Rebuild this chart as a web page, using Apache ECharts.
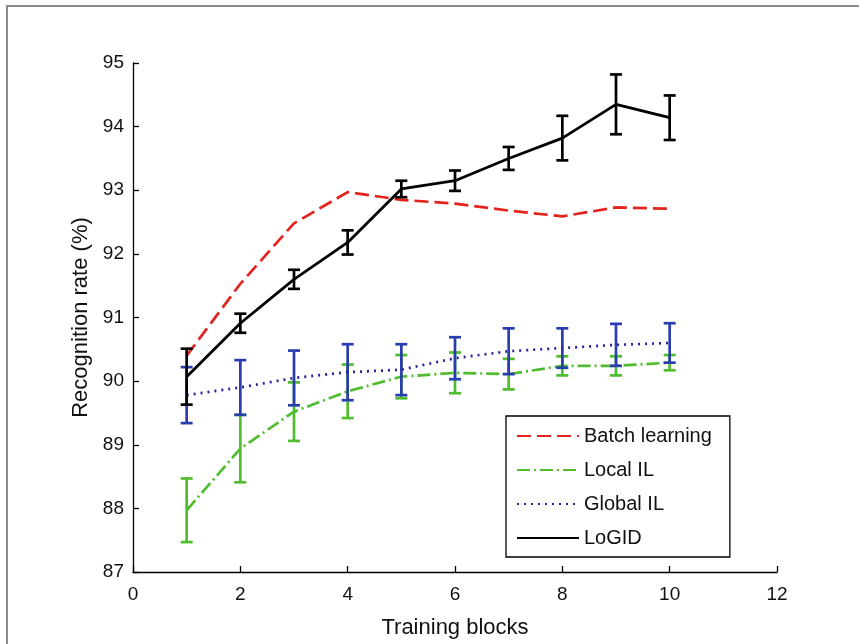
<!DOCTYPE html>
<html>
<head>
<meta charset="utf-8">
<script src="https://cdn.jsdelivr.net/npm/echarts@6/dist/echarts.min.js"></script>
<style>
  html, body { margin: 0; padding: 0; background: #fff; }
  #chart { width: 859px; height: 644px; }
</style>
</head>
<body>
<div id="chart"></div>
<script>
// Training block index
const blocks = [1, 2, 3, 4, 5, 6, 7, 8, 9, 10];

// Mean recognition rate (%) per method
const batchMean  = [90.40, 91.53, 92.48, 92.97, 92.85, 92.79, 92.68, 92.59, 92.73, 92.71];
const localMean  = [87.97, 88.94, 89.52, 89.84, 90.07, 90.13, 90.11, 90.24, 90.24, 90.29];
const globalMean = [89.78, 89.90, 90.05, 90.14, 90.18, 90.36, 90.47, 90.52, 90.57, 90.60];
const logidMean  = [90.07, 90.91, 91.60, 92.18, 93.02, 93.15, 93.50, 93.82, 94.35, 94.14];

// Half-width of the error bars (%)
const localErr  = [0.50, 0.53, 0.46, 0.42, 0.34, 0.32, 0.24, 0.15, 0.15, 0.12];
const globalErr = [0.44, 0.43, 0.43, 0.44, 0.40, 0.33, 0.36, 0.31, 0.33, 0.31];
const logidErr  = [0.44, 0.15, 0.15, 0.19, 0.13, 0.16, 0.18, 0.35, 0.47, 0.35];

// Axis ticks
const xTicks = { min: 0, max: 12, interval: 2 };
const yTicks = { min: 87, max: 95, interval: 1 };

const seriesNames = ['Batch learning', 'Local IL', 'Global IL', 'LoGID'];

const colors = {
  batch: '#e3231d',
  local: '#4fbd2e',
  globalLine: '#25259a',
  globalBar: '#2a3db0',
  logid: '#000000'
};

const FONT = '"Liberation Sans", Arial, sans-serif';

function pairs(ys) { return blocks.map((x, i) => [x, ys[i]]); }
function bars(ys, errs) { return blocks.map((x, i) => [x, ys[i] - errs[i], ys[i] + errs[i]]); }

function errorBarSeries(id, ys, errs, color, z) {
  return {
    id: id,
    type: 'custom',
    data: bars(ys, errs),
    encode: { x: 0, y: [1, 2] },
    z: z,
    silent: true,
    renderItem: function (params, api) {
      const x = api.value(0);
      const lo = api.coord([x, api.value(1)]);
      const hi = api.coord([x, api.value(2)]);
      const cap = 6;
      const st = { stroke: color, lineWidth: 2.7 };
      return {
        type: 'group',
        children: [
          { type: 'line', shape: { x1: hi[0], y1: hi[1], x2: lo[0], y2: lo[1] }, style: st },
          { type: 'line', shape: { x1: hi[0] - cap, y1: hi[1], x2: hi[0] + cap, y2: hi[1] }, style: st },
          { type: 'line', shape: { x1: lo[0] - cap, y1: lo[1], x2: lo[0] + cap, y2: lo[1] }, style: st }
        ]
      };
    }
  };
}

function lineSeries(name, ys, color, type, width, z) {
  return {
    name: name,
    type: 'line',
    data: pairs(ys),
    symbol: 'none',
    z: z,
    lineStyle: { color: color, width: width, type: type, cap: 'butt' },
    itemStyle: { color: color }
  };
}

const chart = echarts.init(document.getElementById('chart'), null, { renderer: 'canvas' });

chart.setOption({
  backgroundColor: '#ffffff',
  animation: false,
  textStyle: { fontFamily: FONT },
  graphic: [
    // outer frame edges
    { type: 'rect', shape: { x: 6, y: 5, width: 860, height: 2 }, style: { fill: '#8a8a8a' }, z: 100 },
    { type: 'rect', shape: { x: 6, y: 5, width: 2, height: 650 }, style: { fill: '#8a8a8a' }, z: 100 }
  ],
  grid: { left: 133, top: 63, right: 82, bottom: 72, containLabel: false },
  legend: {
    data: seriesNames,
    orient: 'vertical',
    left: 506,
    top: 416,
    padding: [10, 18, 9, 10],
    itemWidth: 62,
    itemHeight: 14,
    itemGap: 14,
    borderColor: '#000',
    borderWidth: 1.3,
    backgroundColor: '#fff',
    selectedMode: false,
    // line-only legend keys
    itemStyle: { color: 'rgba(0,0,0,0)', borderWidth: 0, opacity: 0 },
    textStyle: { fontFamily: FONT, fontSize: 20, color: '#111', lineHeight: 20 }
  },
  xAxis: {
    type: 'value',
    min: xTicks.min, max: xTicks.max, interval: xTicks.interval,
    name: 'Training blocks',
    nameLocation: 'middle',
    nameGap: 45,
    nameTextStyle: { fontFamily: FONT, fontSize: 22, color: '#111' },
    axisLine: { lineStyle: { color: '#000', width: 1.3 } },
    axisTick: { inside: true, length: 6, lineStyle: { color: '#000', width: 1.3 } },
    axisLabel: { fontFamily: FONT, fontSize: 19, color: '#111', margin: 13 },
    splitLine: { show: false }
  },
  yAxis: {
    type: 'value',
    min: yTicks.min, max: yTicks.max, interval: yTicks.interval,
    name: 'Recognition rate (%)',
    nameLocation: 'middle',
    nameGap: 40,
    nameTextStyle: { fontFamily: FONT, fontSize: 22, color: '#111' },
    axisLine: { show: true, lineStyle: { color: '#000', width: 1.3 } },
    axisTick: { show: true, inside: true, length: 6, lineStyle: { color: '#000', width: 1.3 } },
    axisLabel: { fontFamily: FONT, fontSize: 19, color: '#111', margin: 9 },
    splitLine: { show: false }
  },
  series: [
    lineSeries('Batch learning', batchMean, colors.batch, [14, 6], 2.7, 2),
    lineSeries('Local IL', localMean, colors.local, [13, 4, 2, 4], 2.7, 3),
    errorBarSeries('localBars', localMean, localErr, colors.local, 3),
    lineSeries('Global IL', globalMean, colors.globalLine, [2, 5], 2.7, 4),
    errorBarSeries('globalBars', globalMean, globalErr, colors.globalBar, 4),
    lineSeries('LoGID', logidMean, colors.logid, 'solid', 2.8, 5),
    errorBarSeries('logidBars', logidMean, logidErr, colors.logid, 5)
  ]
});
</script>
</body>
</html>
